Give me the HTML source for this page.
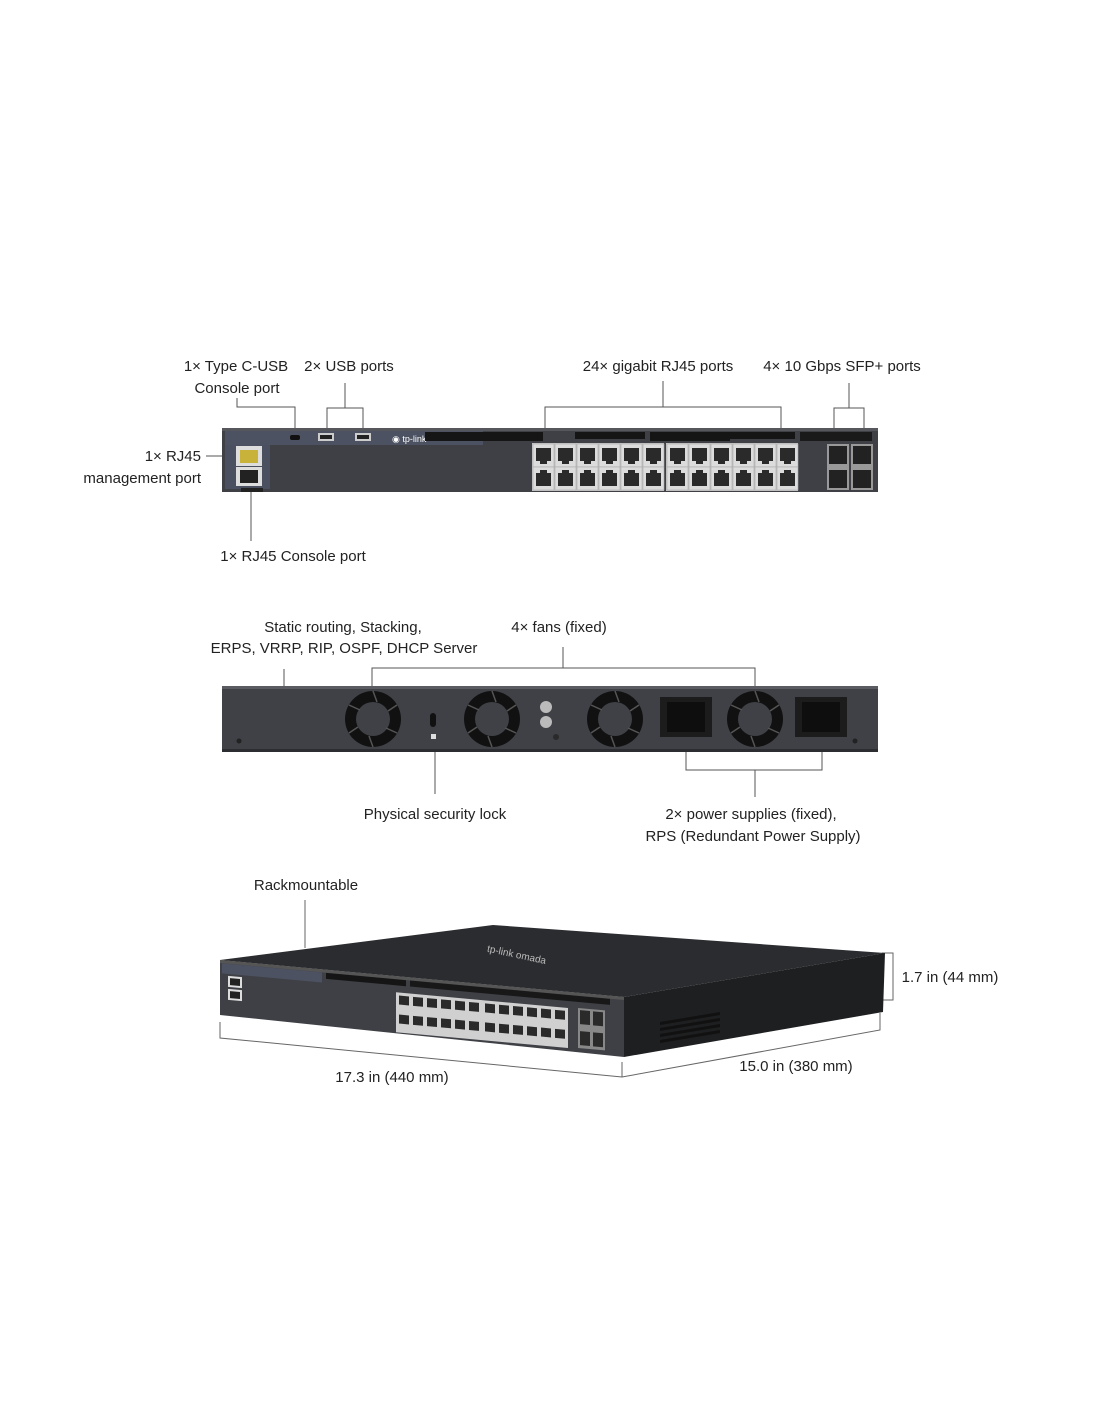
<!DOCTYPE html>
<html><head><meta charset="utf-8"><style>
html,body{margin:0;padding:0;background:#fff;}
svg{display:block;}
text{font-family:"Liberation Sans",sans-serif;font-size:15px;fill:#222;}
</style></head><body>
<svg width="1100" height="1422" viewBox="0 0 1100 1422" xmlns="http://www.w3.org/2000/svg">
<defs>
<g id="rj">
<rect x="0" y="0" width="21" height="23" fill="#dcdcdc" stroke="#aaa" stroke-width="0.6"/>
<rect x="3" y="4" width="15" height="13" fill="#2a2a2a"/>
<rect x="7" y="17" width="7" height="3" fill="#2a2a2a"/>
</g>
<g id="rjd">
<rect x="0" y="0" width="21" height="23" fill="#dcdcdc" stroke="#aaa" stroke-width="0.6"/>
<rect x="3" y="6" width="15" height="13" fill="#2a2a2a"/>
<rect x="7" y="3" width="7" height="3" fill="#2a2a2a"/>
</g>
<g id="fan">
<circle r="28" fill="#111"/>
<circle r="17" fill="#3f4146"/>
<path d="M0,-28 L4,-17 M24,-14 L15,-8 M24,14 L13,9 M0,28 L-4,17 M-24,14 L-15,8 M-24,-14 L-13,-9" stroke="#555" stroke-width="1.5"/>
</g>
</defs>

<!-- ===== FRONT PANEL ===== -->
<text x="236" y="371" text-anchor="middle">1× Type C-USB</text>
<text x="237" y="393" text-anchor="middle">Console port</text>
<text x="349" y="371" text-anchor="middle">2× USB ports</text>
<text x="658" y="371" text-anchor="middle">24× gigabit RJ45 ports</text>
<text x="842" y="371" text-anchor="middle">4× 10 Gbps SFP+ ports</text>
<text x="201" y="461" text-anchor="end">1× RJ45</text>
<text x="201" y="483" text-anchor="end">management port</text>
<text x="293" y="561" text-anchor="middle">1× RJ45 Console port</text>

<g stroke="#555" stroke-width="1" fill="none">
<path d="M237,398 V407 H295 V436"/>
<path d="M327,432 V408 H363 V432 M345,408 V383"/>
<path d="M545,444 V407 H781 V444 M663,407 V381"/>
<path d="M834,434 V408 H864 V434 M849,408 V383"/>
<path d="M206,456 H238"/>
<path d="M251,486 V541"/>
</g>

<rect x="222" y="428" width="656" height="64" fill="#3e4045"/>
<rect x="222" y="428" width="656" height="3" fill="#55575c"/>
<rect x="225" y="431" width="45" height="58" fill="#4a5060"/>
<rect x="225" y="431" width="258" height="14" fill="#4c5262"/>
<rect x="236" y="446" width="26" height="20" fill="#ddd"/>
<rect x="240" y="450" width="18" height="13" fill="#c9b23a"/>
<rect x="236" y="467" width="26" height="19" fill="#ddd"/>
<rect x="240" y="470" width="18" height="13" fill="#222"/>
<rect x="241" y="488" width="22" height="4" fill="#222"/>
<rect x="290" y="435" width="10" height="5" rx="2" fill="#111"/>
<rect x="318" y="433" width="16" height="8" fill="#ccc"/><rect x="320" y="435" width="12" height="4" fill="#222"/>
<rect x="355" y="433" width="16" height="8" fill="#ccc"/><rect x="357" y="435" width="12" height="4" fill="#222"/>
<text x="392" y="442" style="font-size:9px;fill:#fff">◉ tp-link</text>
<!-- vents -->
<rect x="425" y="432" width="118" height="9" fill="#151515"/>
<rect x="575" y="432" width="70" height="7" fill="#151515"/>
<rect x="650" y="432" width="80" height="9" fill="#151515"/>
<rect x="730" y="432" width="65" height="7" fill="#151515"/>
<rect x="800" y="432" width="72" height="9" fill="#1a1a1a"/>
<!-- RJ45 block -->
<rect x="532" y="443" width="132" height="48" fill="#c8c8c8"/>
<rect x="666" y="443" width="132" height="48" fill="#c8c8c8"/>
<g>
<use href="#rj" x="533" y="444"/><use href="#rj" x="555" y="444"/><use href="#rj" x="577" y="444"/><use href="#rj" x="599" y="444"/><use href="#rj" x="621" y="444"/><use href="#rj" x="643" y="444"/>
<use href="#rj" x="667" y="444"/><use href="#rj" x="689" y="444"/><use href="#rj" x="711" y="444"/><use href="#rj" x="733" y="444"/><use href="#rj" x="755" y="444"/><use href="#rj" x="777" y="444"/>
<use href="#rjd" x="533" y="467"/><use href="#rjd" x="555" y="467"/><use href="#rjd" x="577" y="467"/><use href="#rjd" x="599" y="467"/><use href="#rjd" x="621" y="467"/><use href="#rjd" x="643" y="467"/>
<use href="#rjd" x="667" y="467"/><use href="#rjd" x="689" y="467"/><use href="#rjd" x="711" y="467"/><use href="#rjd" x="733" y="467"/><use href="#rjd" x="755" y="467"/><use href="#rjd" x="777" y="467"/>
</g>
<!-- SFP -->
<rect x="827" y="444" width="22" height="46" fill="#999"/>
<rect x="851" y="444" width="22" height="46" fill="#999"/>
<rect x="829" y="446" width="18" height="18" fill="#222"/><rect x="829" y="470" width="18" height="18" fill="#222"/>
<rect x="853" y="446" width="18" height="18" fill="#222"/><rect x="853" y="470" width="18" height="18" fill="#222"/>

<!-- ===== BACK PANEL ===== -->
<text x="343" y="632" text-anchor="middle">Static routing, Stacking,</text>
<text x="344" y="653" text-anchor="middle">ERPS, VRRP, RIP, OSPF, DHCP Server</text>
<text x="559" y="632" text-anchor="middle">4× fans (fixed)</text>
<text x="435" y="819" text-anchor="middle">Physical security lock</text>
<text x="751" y="819" text-anchor="middle">2× power supplies (fixed),</text>
<text x="753" y="841" text-anchor="middle">RPS (Redundant Power Supply)</text>
<g stroke="#555" stroke-width="1" fill="none">
<path d="M372,692 V668 H755 V692 M563,668 V647"/>
<path d="M284,669 V688"/>
<path d="M435,740 V794"/>
<path d="M686,752 V770 H822 V752 M755,770 V797"/>
</g>
<rect x="222" y="686" width="656" height="66" fill="#3f4146"/>
<rect x="222" y="686" width="656" height="3" fill="#5a5c61"/>
<rect x="222" y="749" width="656" height="3" fill="#2c2d30"/>
<use href="#fan" x="373" y="719"/>
<use href="#fan" x="492" y="719"/>
<use href="#fan" x="615" y="719"/>
<use href="#fan" x="755" y="719"/>
<rect x="430" y="713" width="6" height="14" rx="3" fill="#111"/>
<rect x="431" y="734" width="5" height="5" fill="#ddd"/>
<circle cx="546" cy="707" r="6" fill="#bbb"/><circle cx="546" cy="722" r="6" fill="#bbb"/>
<circle cx="556" cy="737" r="3" fill="#2a2a2a"/>
<rect x="660" y="697" width="52" height="40" fill="#1c1c1c"/>
<rect x="667" y="702" width="38" height="30" fill="#0e0e0e"/>
<rect x="795" y="697" width="52" height="40" fill="#1c1c1c"/>
<rect x="802" y="702" width="38" height="30" fill="#0e0e0e"/>
<circle cx="239" cy="741" r="2.5" fill="#222"/><circle cx="855" cy="741" r="2.5" fill="#222"/>

<!-- ===== 3D VIEW ===== -->
<text x="306" y="890" text-anchor="middle">Rackmountable</text>
<text x="950" y="982" text-anchor="middle">1.7 in (44 mm)</text>
<text x="796" y="1071" text-anchor="middle">15.0 in (380 mm)</text>
<text x="392" y="1082" text-anchor="middle">17.3 in (440 mm)</text>
<g stroke="#666" stroke-width="1" fill="none">
<path d="M305,900 V948"/>
<path d="M882,953 H893 V1000 H882"/>
<path d="M220,1022 V1038 L622,1077 L880,1030 V1013"/>
<path d="M622,1062 V1077"/>
</g>
<polygon points="220,960 493,925 885,953 624,997" fill="#2b2c2f"/>
<polygon points="624,997 885,953 883,1012 624,1057" fill="#1e1f21"/>
<polygon points="220,960 624,997 624,1057 220,1015" fill="#3e4045"/>
<polygon points="220,960 624,997 624,1000 220,963" fill="#555"/>
<text x="485" y="963" style="font-size:10px;fill:#bbb" transform="rotate(12 540 965)">tp-link omada</text>
<g transform="matrix(1,0.0916,0,1,0,0)">
<rect x="222" y="943" width="100" height="10" fill="#4c5262"/>
<rect x="228" y="955" width="14" height="11" fill="#ddd"/>
<rect x="228" y="968" width="14" height="11" fill="#ddd"/>
<rect x="230" y="957" width="10" height="7" fill="#222"/>
<rect x="230" y="970" width="10" height="7" fill="#222"/>
<rect x="326" y="943" width="80" height="6" fill="#151515"/>
<rect x="410" y="943" width="200" height="6" fill="#181818"/>
<rect x="396" y="956" width="172" height="40" fill="#d0d0d0"/>
<rect x="578" y="955" width="27" height="40" fill="#888"/>
</g>
<g transform="matrix(1,0.0916,0,1,0,0)" fill="#2a2a2a">
<rect x="399" y="959" width="10" height="9"/><rect x="413" y="959" width="10" height="9"/><rect x="427" y="959" width="10" height="9"/><rect x="441" y="959" width="10" height="9"/><rect x="455" y="959" width="10" height="9"/><rect x="469" y="959" width="10" height="9"/>
<rect x="485" y="959" width="10" height="9"/><rect x="499" y="959" width="10" height="9"/><rect x="513" y="959" width="10" height="9"/><rect x="527" y="959" width="10" height="9"/><rect x="541" y="959" width="10" height="9"/><rect x="555" y="959" width="10" height="9"/>
<rect x="399" y="978" width="10" height="9"/><rect x="413" y="978" width="10" height="9"/><rect x="427" y="978" width="10" height="9"/><rect x="441" y="978" width="10" height="9"/><rect x="455" y="978" width="10" height="9"/><rect x="469" y="978" width="10" height="9"/>
<rect x="485" y="978" width="10" height="9"/><rect x="499" y="978" width="10" height="9"/><rect x="513" y="978" width="10" height="9"/><rect x="527" y="978" width="10" height="9"/><rect x="541" y="978" width="10" height="9"/><rect x="555" y="978" width="10" height="9"/>
<rect x="580" y="957" width="10" height="14"/><rect x="593" y="957" width="10" height="14"/>
<rect x="580" y="978" width="10" height="14"/><rect x="593" y="978" width="10" height="14"/>
</g>
<g fill="#111">
<polygon points="660,1022 720,1012 720,1015 660,1025"/>
<polygon points="660,1028 720,1018 720,1021 660,1031"/>
<polygon points="660,1034 720,1024 720,1027 660,1037"/>
<polygon points="660,1040 720,1030 720,1033 660,1043"/>
</g>
</svg>
</body></html>
